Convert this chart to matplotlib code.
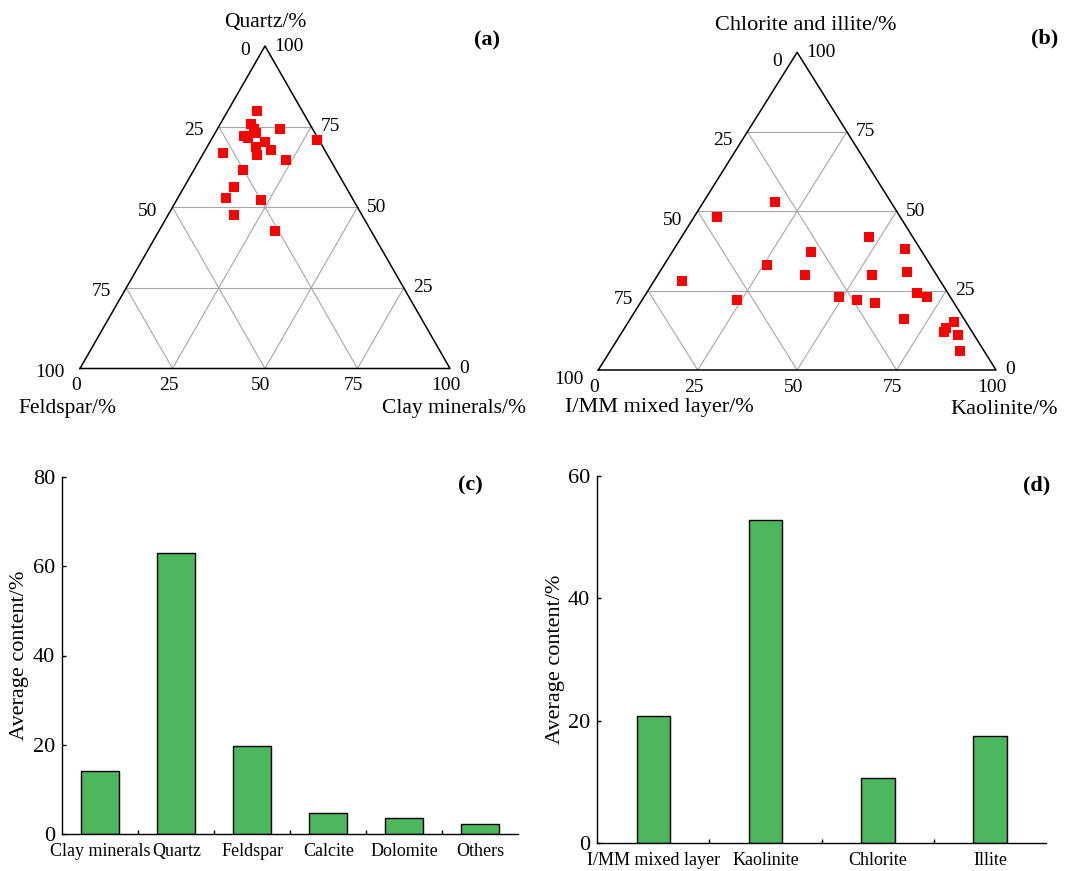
import numpy as np
import matplotlib
matplotlib.use("Agg")
import matplotlib.pyplot as plt

plt.rcParams['font.family'] = ['Liberation Serif', 'DejaVu Serif']

# (a) quartz - feldspar - clay minerals, %
quartz_a = [79.7, 75.8, 74.4, 72.2, 71.5, 72.9, 70.3, 67.7, 68.7, 66.3,
            74.4, 70.8, 66.9, 64.8, 61.6, 56.2, 53.0, 52.1, 47.7, 42.5]
feldspar_a = [12.3, 15.9, 15.8, 19.5, 18.8, 15.9, 14.8, 14.6, 18.2, 18.9,
              8.7, 0.6, 27.8, 12.0, 25.1, 30.2, 34.1, 25.0, 34.5, 26.1]
clay_a = [8.0, 8.3, 9.8, 8.3, 9.7, 11.2, 14.9, 17.7, 13.1, 14.8,
          16.9, 28.6, 5.3, 23.2, 13.3, 13.6, 12.9, 22.9, 17.8, 31.4]

# (b) chlorite+illite - I/MM mixed layer - kaolinite, %
chl_ill_b = [53.0, 48.1, 42.0, 38.0, 37.0, 33.1, 29.9, 29.9, 31.0, 28.0, 22.0,
             23.1, 22.0, 21.0, 24.1, 23.1, 15.9, 15.0, 13.1, 12.1, 11.0, 6.0]
immix_b = [29.0, 46.0, 10.9, 4.0, 28.0, 41.0, 33.1, 16.2, 7.0, 65.0, 54.0,
           27.9, 24.0, 19.9, 7.9, 5.8, 15.1, 3.0, 6.1, 7.0, 4.0, 6.0]
kaol_b = [18.0, 5.9, 47.1, 58.0, 35.0, 25.9, 37.0, 53.9, 62.0, 7.0, 24.0,
          49.0, 54.0, 59.1, 68.0, 71.1, 69.0, 82.0, 80.8, 80.9, 85.0, 88.0]

# (c) whole rock minerals
minerals_c = ['Clay minerals', 'Quartz', 'Feldspar', 'Calcite', 'Dolomite', 'Others']
content_c = [14.2, 63.0, 19.8, 4.7, 3.6, 2.2]

# (d) clay minerals
clays_d = ['I/MM mixed layer', 'Kaolinite', 'Chlorite', 'Illite']
content_d = [20.8, 52.8, 10.6, 17.5]

ternary_ticks = [0, 25, 50, 75, 100]

W, H = 1071, 871
fig = plt.figure(figsize=(W / 100, H / 100), dpi=100)


def box(left, top, right, bottom):
	return [left / W, 1 - bottom / H, (right - left) / W, (bottom - top) / H]


def px(x, y):
	return x / W, 1 - y / H


h = np.sqrt(3) / 2


def tern_xy(top, right):
	top = np.asarray(top) / 100.0
	right = np.asarray(right) / 100.0
	return right + top / 2, top * h


def ternary(ax, top, right, left_dy):
	ax.set_xlim(0, 1)
	ax.set_ylim(0, h)
	ax.axis('off')
	for v in ternary_ticks[1:-1]:
		f = v / 100.0
		ax.plot([f / 2, 1 - f / 2], [f * h, f * h], color='#a6a6a6', lw=0.8, clip_on=False)
		ax.plot([f, f + (1 - f) / 2], [0, (1 - f) * h], color='#a6a6a6', lw=0.8, clip_on=False)
		ax.plot([1 - f, (1 - f) / 2], [0, (1 - f) * h], color='#a6a6a6', lw=0.8, clip_on=False)
	ax.plot([0, 1, 0.5, 0], [0, 0, h, 0], color='black', lw=1.1, clip_on=False)
	for v in ternary_ticks:
		f = v / 100.0
		# left side (left component)
		ax.annotate(str(v), xy=((1 - f) / 2, (1 - f) * h), xytext=(-15, left_dy),
		            textcoords='offset pixels', ha='right', va='center', fontsize=14)
		# right side (top component)
		ax.annotate(str(v), xy=(1 - f / 2, f * h), xytext=(9, 0),
		            textcoords='offset pixels', ha='left', va='center', fontsize=14)
		# bottom (right component)
		ax.annotate(str(v), xy=(f, 0), xytext=(-4, -17),
		            textcoords='offset pixels', ha='center', va='center', fontsize=14)
	x, y = tern_xy(top, right)
	ax.plot(x, y, 's', color='#ff0000', ms=7.2, mew=0, ls='none', clip_on=False)


# (a)
ax_a = fig.add_axes(box(80, 46, 450, 368.5))
ternary(ax_a, quartz_a, clay_a, -4)
fig.text(*px(265.7, 23), 'Quartz/%', ha='center', va='center', fontsize=15.5)
fig.text(*px(67, 408), 'Feldspar/%', ha='center', va='center', fontsize=15.5)
fig.text(*px(454, 408), 'Clay minerals/%', ha='center', va='center', fontsize=15.5)
fig.text(*px(487, 40), '(a)', ha='center', va='center', fontsize=16, fontweight='bold')

# (b)
ax_b = fig.add_axes(box(598.3, 52.3, 996, 370))
ternary(ax_b, chl_ill_b, kaol_b, -9)
fig.text(*px(805.7, 25), 'Chlorite and illite/%', ha='center', va='center', fontsize=16)
fig.text(*px(659, 407), 'I/MM mixed layer/%', ha='center', va='center', fontsize=16)
fig.text(*px(1004, 410), 'Kaolinite/%', ha='center', va='center', fontsize=16)
fig.text(*px(1045, 38), '(b)', ha='center', va='center', fontsize=16, fontweight='bold')


def bars(ax, names, values, width, ymax, step, label_x):
	n = len(names)
	pos = np.arange(n)
	ax.bar(pos, values, width=width, color='#4cb75c', edgecolor='black', linewidth=1.0)
	ax.set_xlim(-0.5, n - 0.5)
	ax.set_ylim(0, ymax)
	ax.set_yticks(np.arange(0, ymax + 1, step))
	ax.set_xticks(pos[:-1] + 0.5)
	ax.set_xticklabels([])
	ax.set_xticks(pos, minor=True)
	ax.set_xticklabels(names, minor=True, fontsize=13)
	ax.tick_params(axis='x', which='minor', length=0, pad=6.5)
	ax.tick_params(axis='both', which='major', direction='in', length=3, width=1.0)
	ax.tick_params(axis='y', labelsize=16, pad=5)
	for s in ['top', 'right']:
		ax.spines[s].set_visible(False)
	for s in ['left', 'bottom']:
		ax.spines[s].set_linewidth(1.0)
	ax.set_ylabel('Average content/%', fontsize=16)
	ax.yaxis.set_label_coords(label_x, 0.5)


# (c)
ax_c = fig.add_axes(box(62.3, 476.7, 518.3, 834.3))
bars(ax_c, minerals_c, content_c, 0.5, 80, 20, -0.072)
fig.text(*px(470, 485), '(c)', ha='center', va='center', fontsize=16, fontweight='bold')

# (d)
ax_d = fig.add_axes(box(597.3, 475.7, 1046, 843.3))
bars(ax_d, clays_d, content_d, 0.3, 60, 20, -0.071)
fig.text(*px(1037, 485), '(d)', ha='center', va='center', fontsize=16, fontweight='bold')

fig.savefig('out.png', dpi=100)
